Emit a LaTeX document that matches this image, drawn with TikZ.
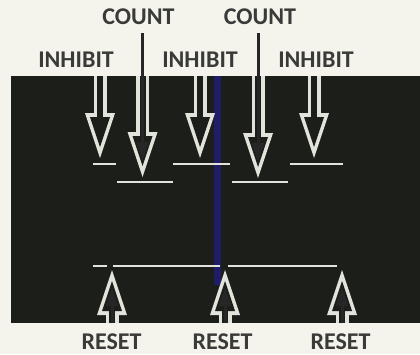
\documentclass[tikz,border=0pt]{standalone}
\usepackage{fontspec}
\setsansfont{Carlito}
\usepackage{tikz}
\usetikzlibrary{arrows.meta}
\usepackage{xcolor}

\definecolor{paper}{HTML}{F4F3EC}
\definecolor{scope}{HTML}{1C1E19}
\definecolor{beam}{HTML}{E2E3DA}
\definecolor{ink}{HTML}{3A3B38}
\definecolor{marker}{HTML}{1F1D68}

\begin{document}
\begin{tikzpicture}[x=1pt, y=-1pt,
    lbltext/.style = {font=\sffamily\bfseries\fontsize{24}{24}\selectfont, text=ink, inner sep=0pt},
    trace/.style = {draw=beam, line width=2.6pt},
    hollow/.style = {draw=beam, line width=13pt, -{Triangle[length=45pt, width=30pt, line width=0pt]}},
    hollowin/.style = {draw=scope, line width=6pt, shorten >=11pt, -{Triangle[length=30pt, width=20pt, line width=0pt]}},
    pointer/.style = {draw=black!85, line width=3pt, -{Triangle[length=18pt, width=13pt, line width=0pt]}}
]

% Paper and scope screen
\fill[paper] (0,0) rectangle (420,354);
\useasboundingbox (0,0) rectangle (420,354);
\node (screen) [fill=scope, inner sep=0pt, minimum width=409pt, minimum height=247pt, anchor=north west] at (11,76) {};

% Marker line
\draw[marker, line width=7pt] (217.5,76) -- (217.5,285);

% Labels
\node (l_count1) [lbltext] at (138.5,17) {COUNT};
\node (l_count2) [lbltext] at (260,17) {COUNT};
\node (l_inhibit1) [lbltext] at (76,59.5) {INHIBIT};
\node (l_inhibit2) [lbltext] at (200,59.5) {INHIBIT};
\node (l_inhibit3) [lbltext] at (316,59.5) {INHIBIT};
\node (l_reset1) [lbltext] at (111.5,341.5) {RESET};
\node (l_reset2) [lbltext] at (222.5,341.5) {RESET};
\node (l_reset3) [lbltext] at (340.5,341.5) {RESET};

% Traces
\draw[trace] (93,164) -- (116,164);
\draw[trace] (117,182) -- (173,182);
\draw[trace] (173,164) -- (230,164);
\draw[trace] (232,182) -- (288,182);
\draw[trace] (290,164) -- (343,164);
\draw[trace] (93,266) -- (107,266);
\draw[trace] (113,266) -- (220,266);
\draw[trace] (228,266) -- (337,266);

% Arrow tips
\coordinate (t_inhibit1) at (100,158);
\coordinate (t_inhibit2) at (200,158);
\coordinate (t_inhibit3) at (314,158);
\coordinate (t_count1) at (142.5,177);
\coordinate (t_count2) at (258,178);
\coordinate (t_reset1) at (112,270);
\coordinate (t_reset2) at (225,270);
\coordinate (t_reset3) at (342,270);

% Inhibit arrows
\draw[hollow] (t_inhibit1 |- screen.north) -- (t_inhibit1);
\draw[hollowin] (t_inhibit1 |- screen.north) -- (t_inhibit1);
\draw[hollow] (t_inhibit2 |- screen.north) -- (t_inhibit2);
\draw[hollowin] (t_inhibit2 |- screen.north) -- (t_inhibit2);
\draw[hollow] (t_inhibit3 |- screen.north) -- (t_inhibit3);
\draw[hollowin] (t_inhibit3 |- screen.north) -- (t_inhibit3);

% Count arrows
\draw[hollow] (t_count1 |- screen.north) -- (t_count1);
\draw[hollowin] (t_count1 |- screen.north) -- (t_count1);
\draw[pointer] ([yshift=-8pt]l_count1.south -| t_count1) -- ([yshift=17pt]t_count1);
\draw[hollow] (t_count2 |- screen.north) -- (t_count2);
\draw[hollowin] (t_count2 |- screen.north) -- (t_count2);
\draw[pointer] ([yshift=-8pt]l_count2.south -| t_count2) -- ([yshift=17pt]t_count2);

% Reset arrows
\draw[hollow] (t_reset1 |- screen.south) -- (t_reset1);
\draw[hollowin] (t_reset1 |- screen.south) -- (t_reset1);
\draw[pointer] (t_reset1 |- screen.south) -- ([yshift=-18pt]t_reset1);
\draw[hollow] (t_reset2 |- screen.south) -- (t_reset2);
\draw[hollowin] (t_reset2 |- screen.south) -- (t_reset2);
\draw[pointer] (t_reset2 |- screen.south) -- ([yshift=-18pt]t_reset2);
\draw[hollow] (t_reset3 |- screen.south) -- (t_reset3);
\draw[hollowin] (t_reset3 |- screen.south) -- (t_reset3);
\draw[pointer] (t_reset3 |- screen.south) -- ([yshift=-18pt]t_reset3);

\end{tikzpicture}
\end{document}
